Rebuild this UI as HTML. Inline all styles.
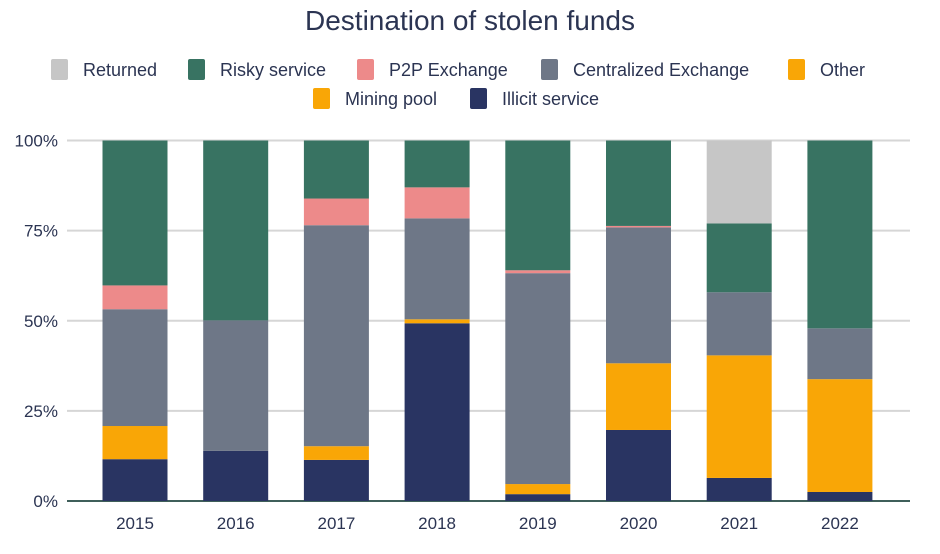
<!DOCTYPE html>
<html><head><meta charset="utf-8"><style>
body{margin:0;background:#fff;width:940px;height:549px;overflow:hidden;font-family:"Liberation Sans",sans-serif;}
</style></head><body>
<svg id="chart" width="940" height="549" style="font-family:'Liberation Sans',sans-serif">
<text x="470" y="30" text-anchor="middle" font-size="28" fill="#2b3452">Destination of stolen funds</text>
<g id="legend"></g>
<g id="grid"></g>
<g id="bars"></g>
<g id="axes"></g>
</svg>
<script>
const categories=["2015","2016","2017","2018","2019","2020","2021","2022"];
const illicit=[11.6,13.9,11.4,49.3,1.9,19.7,6.4,2.5];
const miningPool=[0,0,0,0,0,0,0,0];
const other=[9.2,0,3.8,1.1,2.8,18.5,34,31.3];
const centralized=[32.4,36.2,61.3,28,58.5,37.7,17.5,14.1];
const p2p=[6.6,0,7.4,8.6,0.8,0.4,0,0];
const risky=[40.2,49.9,16.1,13,36,23.7,19.1,52.1];
const returned=[0,0,0,0,0,0,23,0];
const yTicks=[0,25,50,75,100];
const yTickLabels=["0%","25%","50%","75%","100%"];
const NS="http://www.w3.org/2000/svg";
function el(t,a,p){const e=document.createElementNS(NS,t);for(const k in a)e.setAttribute(k,a[k]);p.appendChild(e);return e;}
const y0=501,y1=140.5,xL=67,xR=910;
function yScale(v){return y0-(v/100)*(y0-y1);}
function xCenter(i){return 135+i*100.7;}
const bw=65;
const series=[
 {name:"Illicit service",vals:illicit,color:"#293462",key:"illicit"},
 {name:"Mining pool",vals:miningPool,color:"#f9a606",key:"mining-pool"},
 {name:"Other",vals:other,color:"#f9a606",key:"other"},
 {name:"Centralized Exchange",vals:centralized,color:"#6e7787",key:"centralized"},
 {name:"P2P Exchange",vals:p2p,color:"#ed8a8a",key:"p2p"},
 {name:"Risky service",vals:risky,color:"#387362",key:"risky"},
 {name:"Returned",vals:returned,color:"#c6c6c6",key:"returned"}];
const grid=document.getElementById('grid'),axes=document.getElementById('axes'),bars=document.getElementById('bars'),leg=document.getElementById('legend');
yTicks.forEach((t,i)=>{
 const l=el('line',{x1:xL,x2:xR,y1:yScale(t),y2:yScale(t),stroke:t===0?'#3f5f5a':'#d6d6d6','stroke-width':t===0?2:2},grid);
 
 
 const tx=el('text',{x:58,y:yScale(t)+6,'text-anchor':'end','font-size':17,fill:'#2b3452'},axes);
 tx.textContent=yTickLabels[i];
 
 
});
categories.forEach((c,i)=>{
 let acc=0;
 series.forEach(s=>{
  const v=s.vals[i];
  if(v>0){
   const r=el('rect',{x:xCenter(i)-bw/2,y:yScale(acc+v),width:bw,height:yScale(acc)-yScale(acc+v),fill:s.color},bars);
   
   
  }
  acc+=v;
 });
 const tx=el('text',{x:xCenter(i),y:529,'text-anchor':'middle','font-size':17,fill:'#2b3452'},axes);
 tx.textContent=c;
 
 
});
const legItems=[["Returned","#c6c6c6",51,69],["Risky service","#387362",188,69],["P2P Exchange","#ed8a8a",357,69],["Centralized Exchange","#6e7787",541,69],["Other","#f9a606",788,69],["Mining pool","#f9a606",313,98],["Illicit service","#293462",470,98]];
legItems.forEach(it=>{
 const g=el('g',{},leg);
 
 
 el('rect',{x:it[2],y:it[3]-10,width:17,height:21,rx:2,fill:it[1]},g);
 const t=el('text',{x:it[2]+32,y:it[3]+7,'font-size':18,fill:'#2b3452'},g);
 t.textContent=it[0];
});
</script>
</body></html>
